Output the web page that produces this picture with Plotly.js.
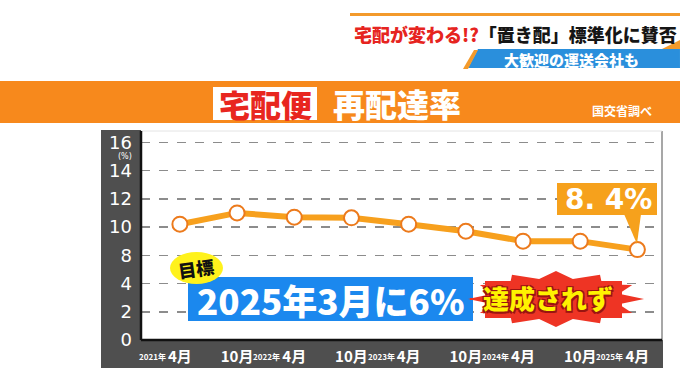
<!DOCTYPE html>
<html>
<head>
<meta charset="utf-8">
<script src="https://cdn.plot.ly/plotly-3.0.1.min.js"></script>
<style>
html,body{margin:0;padding:0;background:#fff;}
#chart{width:680px;height:382px;}
</style>
</head>
<body>
<div id="chart"></div>
<script>
// ---- data ----
const categories = ['2021-04','2021-10','2022-04','2022-10','2023-04','2023-10','2024-04','2024-10','2025-04'];
const rate = [10.2, 11.0, 10.7, 10.65, 10.2, 9.7, 9.0, 9.0, 8.4];
const monthLabels = ['4月','10月','4月','10月','4月','10月','4月','10月','4月'];
const yearLabels = ['2021年','','2022年','','2023年','','2024年','','2025年'];
const yTickVals = [2,4,6,8,10,12,14,16];
const yTickText = ['0','2','4','8','10','12','14','16'];
const lastLabel = '8. 4%';

// ---- layout helpers (pixel -> paper) ----
const L = 141, R = 662, T = 131, B = 340;
const W = R - L, H = B - T;
const px = x => (x - L) / W;
const py = y => (B - y) / H;
const JP = '"Noto Sans CJK JP", "Noto Sans", sans-serif';

function pathPx(pts){
  return 'M' + pts.map(p => px(p[0]).toFixed(4) + ',' + py(p[1]).toFixed(4)).join(' L') + ' Z';
}

// starburst outline (decoration)
function starburst(cx, cy, rx, ry, n, inner){
  const pts = [];
  for (let i = 0; i < n * 2; i++){
    const a = Math.PI * i / n;
    const k = (i % 2 === 0) ? 1 : inner;
    pts.push([cx + Math.cos(a) * rx * k, cy + Math.sin(a) * ry * k]);
  }
  return pathPx(pts);
}

const shapes = [
  // header thin orange line
  {type:'rect', xref:'paper', yref:'paper', x0:px(350), x1:px(680), y0:py(16), y1:py(13), fillcolor:'#f39a2b', line:{width:0}},
  // blue sub-banner
  {type:'path', xref:'paper', yref:'paper', path:pathPx([[468,68],[478,49],[680,49],[680,68]]), fillcolor:'#2a8fdc', line:{width:0}},
  {type:'path', xref:'paper', yref:'paper', path:pathPx([[463,69],[474,50],[478,50],[468,69]]), fillcolor:'#f39a2b', line:{width:0}},
  {type:'path', xref:'paper', yref:'paper', path:pathPx([[662,49],[680,40],[680,49]]), fillcolor:'#f39a2b', line:{width:0}},
  // orange title band
  {type:'rect', xref:'paper', yref:'paper', x0:px(0), x1:px(680), y0:py(123), y1:py(81), fillcolor:'#f7891c', line:{width:0}},
  {type:'rect', xref:'paper', yref:'paper', x0:px(213), x1:px(317), y0:py(120), y1:py(87), fillcolor:'#ffffff', line:{width:0}},
  // dark frame: left panel and bottom panel
  {type:'rect', xref:'paper', yref:'paper', x0:px(101), x1:px(141), y0:py(368), y1:py(130), fillcolor:'#4f4f4f', line:{width:0}, layer:'below'},
  {type:'rect', xref:'paper', yref:'paper', x0:px(101), x1:px(663), y0:py(368), y1:py(340), fillcolor:'#4f4f4f', line:{width:0}, layer:'below'},
  // right border and top hairline
  {type:'line', xref:'paper', yref:'paper', x0:px(662), x1:px(662), y0:py(340), y1:py(131), line:{color:'#8a8a8a', width:1.5}},
  {type:'line', xref:'paper', yref:'paper', x0:px(141), x1:px(662), y0:py(131), y1:py(131), line:{color:'#e4e4e4', width:1}},
  // target box
  {type:'rect', xref:'paper', yref:'paper', x0:px(188), x1:px(473), y0:py(321), y1:py(277), fillcolor:'#1b88ee', line:{width:0}},
  // connector to starburst
  {type:'line', xref:'paper', yref:'paper', x0:px(470), x1:px(485), y0:py(299), y1:py(299), line:{color:'#e8321e', width:2}},
  // starburst
  {type:'path', xref:'paper', yref:'paper', path:starburst(556, 299, 88, 28, 12, 0.74), fillcolor:'#ee3424', line:{width:0}},
  {type:'rect', xref:'paper', yref:'paper', x0:px(485), x1:px(622), y0:py(318), y1:py(281), fillcolor:'#ee3424', line:{width:0}},
  // 目標 ellipse
  {type:'circle', xref:'paper', yref:'paper', x0:px(170), x1:px(223), y0:py(284), y1:py(252), fillcolor:'#fff21c', line:{width:0}},
  // 8.4% callout
  {type:'rect', xref:'paper', yref:'paper', x0:px(557), x1:px(657), y0:py(215), y1:py(183), fillcolor:'#f6a11c', line:{width:0}},
  {type:'path', xref:'paper', yref:'paper', path:pathPx([[624,214],[641,214],[637,244]]), fillcolor:'#f6a11c', line:{width:0}}
];

const annotations = [
  {xref:'paper', yref:'paper', x:px(352), y:py(34), xanchor:'left', yanchor:'middle', showarrow:false,
   text:'<span style="color:#e62420">宅配が変わる!?</span><span style="color:#151515">「置き配」標準化に賛否</span>',
   font:{family:JP, size:18, weight:900}},
  {xref:'paper', yref:'paper', x:px(571), y:py(59), xanchor:'center', yanchor:'middle', showarrow:false,
   text:'大歓迎の運送会社も', font:{family:JP, size:15, color:'#ffffff', weight:900}},
  {xref:'paper', yref:'paper', x:px(265), y:py(103), xanchor:'center', yanchor:'middle', showarrow:false,
   text:'宅配便', font:{family:JP, size:31, color:'#e8261f', weight:900}},
  {xref:'paper', yref:'paper', x:px(397), y:py(103), xanchor:'center', yanchor:'middle', showarrow:false,
   text:'再配達率', font:{family:JP, size:32, color:'#ffffff', weight:900}},
  {xref:'paper', yref:'paper', x:px(622), y:py(110), xanchor:'center', yanchor:'middle', showarrow:false,
   text:'国交省調べ', font:{family:JP, size:12, color:'#ffffff', weight:700}},
  {xref:'paper', yref:'paper', x:px(134), y:py(156), xanchor:'right', yanchor:'middle', showarrow:false,
   text:'(%)', font:{family:'DejaVu Sans', size:8, color:'#ffffff'}},
  {xref:'paper', yref:'paper', x:px(330), y:py(299), xanchor:'center', yanchor:'middle', showarrow:false,
   text:'2025年3月に6%', font:{family:JP, size:35, color:'#ffffff', weight:900}},
  {xref:'paper', yref:'paper', x:px(196), y:py(268), xanchor:'center', yanchor:'middle', showarrow:false, textangle:-8,
   text:'目標', font:{family:JP, size:18, color:'#111111', weight:900}},
  {xref:'paper', yref:'paper', x:px(548), y:py(297), xanchor:'center', yanchor:'middle', showarrow:false,
   text:'達成されず', font:{family:JP, size:26, color:'#fff200', weight:900,
   shadow:'-1.5px -1.5px 0 #9a1410, 1.5px -1.5px 0 #9a1410, -1.5px 1.5px 0 #9a1410, 1.5px 1.5px 0 #9a1410'}},
  {xref:'paper', yref:'paper', x:px(608), y:py(199), xanchor:'center', yanchor:'middle', showarrow:false,
   text:lastLabel, font:{family:'DejaVu Sans', size:28, color:'#ffffff', weight:700}}
];

yearLabels.forEach((t, i) => {
  if (!t) return;
  annotations.push({xref:'x', yref:'paper', x:categories[i], y:py(364), xshift:-12, xanchor:'right', yanchor:'bottom',
    showarrow:false, text:t, font:{family:JP, size:8, color:'#ffffff', weight:700}});
});

const trace = {
  type:'scatter', mode:'lines+markers', x:categories, y:rate,
  line:{color:'#f7a01d', width:6},
  marker:{size:15, color:'#ffffff', line:{color:'#ec7a1c', width:2}},
  hoverinfo:'skip', cliponaxis:false
};

const layout = {
  width:680, height:382,
  margin:{l:L, r:680-R, t:T, b:382-B, pad:0},
  paper_bgcolor:'#ffffff', plot_bgcolor:'#ffffff',
  showlegend:false,
  xaxis:{type:'category', range:[-0.68, 8.43], tickvals:categories, ticktext:monthLabels,
    showgrid:false, zeroline:false, showline:false, ticks:'', ticklabelstandoff:6,
    tickfont:{family:JP, size:15, color:'#ffffff', weight:700}, fixedrange:true},
  yaxis:{range:[2, 16.8], tickvals:yTickVals, ticktext:yTickText,
    showgrid:true, gridcolor:'#8c8c8c', griddash:'dash', gridwidth:1.5,
    zeroline:false, showline:false, ticks:'', ticklabelstandoff:8,
    tickfont:{family:'DejaVu Sans', size:18, color:'#ffffff'}, fixedrange:true},
  shapes:shapes.concat([
    {type:'line', xref:'paper', yref:'paper', x0:0, x1:1, y0:0, y1:0, line:{color:'#111111', width:2.5}},
    {type:'line', xref:'paper', yref:'paper', x0:0, x1:0, y0:0, y1:py(131), line:{color:'#111111', width:2.5}}
  ]),
  annotations:annotations
};

Plotly.newPlot('chart', [trace], layout, {displayModeBar:false, staticPlot:true});
</script>
</body>
</html>
